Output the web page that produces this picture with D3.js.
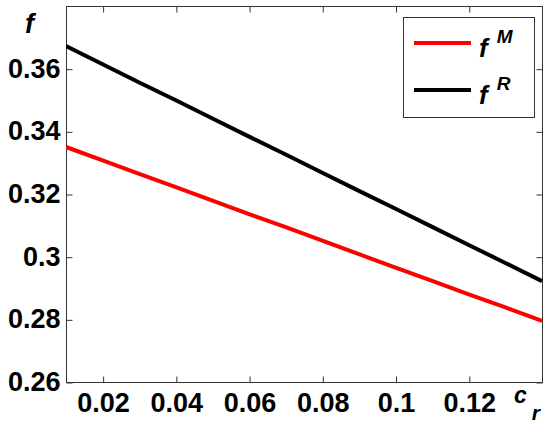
<!DOCTYPE html>
<html>
<head>
<meta charset="utf-8">
<script src="https://cdn.jsdelivr.net/npm/d3@7"></script>
<style>
  html, body { margin: 0; padding: 0; background: #fff; }
  svg { display: block; }
  text { font-family: "Liberation Sans", Arial, sans-serif; font-weight: bold; fill: #000; }
</style>
</head>
<body>
<svg id="chart" width="550" height="432"></svg>
<script>
// ---- data ----
const cr = [0.01, 0.02, 0.03, 0.04, 0.05, 0.06, 0.07, 0.08, 0.09, 0.10, 0.11, 0.12, 0.13, 0.14];
const fM = [0.3350, 0.3307, 0.3264, 0.3222, 0.3179, 0.3136, 0.3094, 0.3051, 0.3008, 0.2965, 0.2923, 0.2880, 0.2838, 0.2795];
const fR = [0.3672, 0.3614, 0.3556, 0.3499, 0.3441, 0.3383, 0.3326, 0.3268, 0.3210, 0.3153, 0.3095, 0.3037, 0.2980, 0.2922];
const xTicks = [0.02, 0.04, 0.06, 0.08, 0.1, 0.12];
const xTickLabels = ["0.02", "0.04", "0.06", "0.08", "0.1", "0.12"];
const yTicks = [0.26, 0.28, 0.3, 0.32, 0.34, 0.36];
const yTickLabels = ["0.26", "0.28", "0.3", "0.32", "0.34", "0.36"];
const seriesNames = ["M", "R"];
const seriesColors = ["#ff0000", "#000000"];

(function () {
const L = 66, R = 542, T = 6, B = 382;
const svg = d3.select("#chart");
const x = d3.scaleLinear().domain([0.01, 0.14]).range([L, R]);
const y = d3.scaleLinear().domain([0.26, 0.38]).range([B, T]);

const tickLen = 6;
const fs = 27;

const axisColor = "#333";
function styleAxis(g) {
  g.select(".domain").remove();
  g.selectAll(".tick line").attr("stroke", axisColor).attr("stroke-width", 1);
}
const gBottom = svg.append("g").attr("transform", `translate(0.5,${B + 0.5})`)
  .call(d3.axisBottom(x).tickValues(xTicks).tickSizeInner(-tickLen).tickSizeOuter(0)
        .tickFormat((d, i) => xTickLabels[i]));
styleAxis(gBottom);
gBottom.selectAll(".tick text").attr("font-size", fs).attr("font-family", "Liberation Sans, Arial, sans-serif")
  .attr("font-weight", "bold").attr("fill", "#000").attr("dy", "0.71em").attr("y", 10);

const gTop = svg.append("g").attr("transform", `translate(0.5,${T + 0.5})`)
  .call(d3.axisTop(x).tickValues(xTicks).tickSizeInner(-tickLen).tickSizeOuter(0).tickFormat(""));
styleAxis(gTop);

const gLeft = svg.append("g").attr("transform", `translate(${L + 0.5},0.5)`)
  .call(d3.axisLeft(y).tickValues(yTicks).tickSizeInner(-tickLen).tickSizeOuter(0)
        .tickFormat((d, i) => yTickLabels[i]));
styleAxis(gLeft);
gLeft.selectAll(".tick text").attr("font-size", fs).attr("font-family", "Liberation Sans, Arial, sans-serif")
  .attr("font-weight", "bold").attr("fill", "#000").attr("x", -6).attr("dy", "0.3em");

const gRight = svg.append("g").attr("transform", `translate(${R + 0.5},0.5)`)
  .call(d3.axisRight(y).tickValues(yTicks).tickSizeInner(-tickLen).tickSizeOuter(0).tickFormat(""));
styleAxis(gRight);

svg.append("rect").attr("x", L + 0.5).attr("y", T + 0.5).attr("width", R - L).attr("height", B - T)
  .attr("fill", "none").attr("stroke", axisColor).attr("stroke-width", 1);

svg.append("clipPath").attr("id", "clip").append("rect")
  .attr("x", L).attr("y", T).attr("width", R - L + 1).attr("height", B - T + 1);
const line = d3.line().x(d => x(d[0])).y(d => y(d[1]));
[fM, fR].forEach((vals, k) => {
  svg.append("path").datum(cr.map((c, i) => [c, vals[i]]))
    .attr("clip-path", "url(#clip)")
    .attr("d", line).attr("fill", "none").attr("stroke", seriesColors[k])
    .attr("stroke-width", 4).attr("stroke-linejoin", "round");
});

svg.append("text").attr("x", 25).attr("y", 33).attr("font-size", 27).attr("font-style", "italic").text("f");
const xl = svg.append("text").attr("x", 514).attr("y", 403).attr("font-size", 23).attr("font-style", "italic");
xl.append("tspan").text("c");
xl.append("tspan").attr("font-size", 21).attr("dy", 17).attr("dx", 5).text("r");

const lg = svg.append("g");
lg.append("rect").attr("x", 403.5).attr("y", 17.5).attr("width", 131).attr("height", 100)
  .attr("fill", "#fff").attr("stroke", axisColor).attr("stroke-width", 1);
const legY = [43, 90];
seriesNames.forEach((n, k) => {
  lg.append("line").attr("x1", 414).attr("x2", 471).attr("y1", legY[k]).attr("y2", legY[k])
    .attr("stroke", seriesColors[k]).attr("stroke-width", 4);
  const t = lg.append("text").attr("x", 479).attr("y", legY[k] + 14).attr("font-size", 26).attr("font-style", "italic");
  t.append("tspan").text("f");
  t.append("tspan").attr("font-size", 19).attr("dy", -14).attr("dx", 9).text(n);
});
})();
</script>
</body>
</html>
